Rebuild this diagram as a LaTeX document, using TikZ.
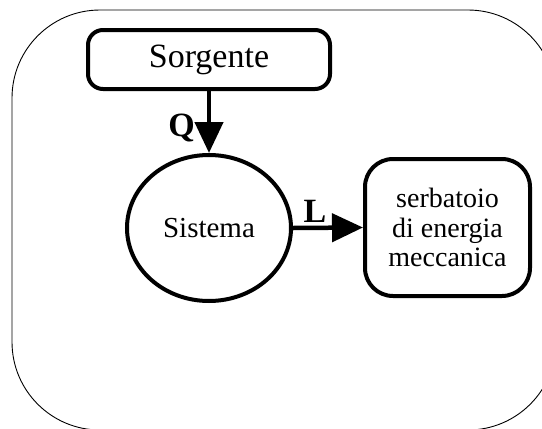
\documentclass[tikz,border=0pt]{standalone}
\usepackage{fontspec}
\setmainfont{Liberation Serif}
\usepackage{tikz}
\usetikzlibrary{
  shapes.geometric,
  arrows.meta
}
\tikzset{
  boxnode/.style = {draw, line width=4pt, rounded corners=15pt, inner sep=0pt},
  flow/.style = {line width=4.5pt, -{Triangle[length=31pt, width=28pt]}},
  flowlabel/.style = {inner sep=0pt, font=\fontsize{34}{36}\selectfont\bfseries}
}

\begin{document}
\begin{tikzpicture}[x=1pt, y=-1pt]
\path[use as bounding box, clip] (0,0) rectangle (542,429);
\draw [line width=0.9pt, rounded corners=88pt] (12,10) rectangle (556,430);

\node [boxnode, minimum width=242pt, minimum height=59pt,
  font=\fontsize{34}{36}\selectfont] (sorgente) at (209,59.5) {Sorgente};
\node [ellipse, draw, line width=4pt, inner sep=0pt, minimum width=164pt,
  minimum height=146pt, font=\fontsize{29}{30}\selectfont] (sistema) at (209,228) {Sistema};
\node [boxnode, rounded corners=28pt, minimum width=165pt, minimum height=137pt,
  align=center, font=\fontsize{28}{29.5}\selectfont] (serbatoio) at (447.5,227.5)
  {serbatoio\\di energia\\meccanica};

\draw [flow] (sorgente) -- node [flowlabel, anchor=east, xshift=-12pt, yshift=-5.5pt] {Q} (sistema);
\draw [flow] (sistema.east) -- node [flowlabel, anchor=south, xshift=-13pt, yshift=3pt] {L} (serbatoio.west);

\end{tikzpicture}
\end{document}
